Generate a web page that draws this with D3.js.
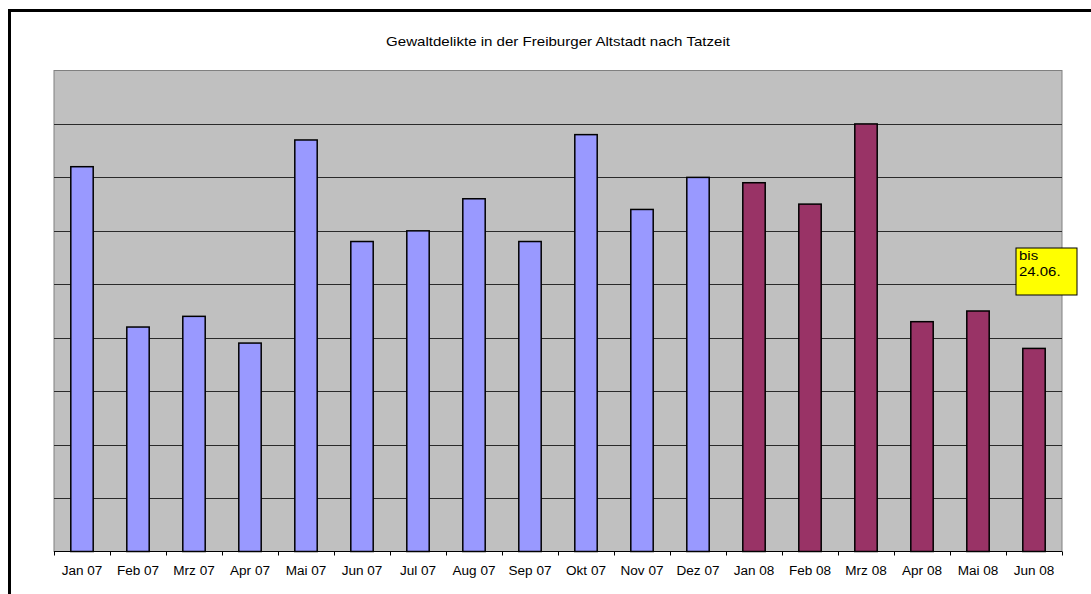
<!DOCTYPE html>
<html>
<head>
<meta charset="utf-8">
<script src="https://cdn.jsdelivr.net/npm/d3@7"></script>
<style>
  body { margin: 0; background: #fff; }
  svg text { font-family: "Liberation Sans", Arial, sans-serif; fill: #000; }
  .axis path { display: none; }
  .axis line { stroke: #000; }
</style>
</head>
<body>
<div id="chart"></div>
<script>
// ---- data
const months = ["Jan 07", "Feb 07", "Mrz 07", "Apr 07", "Mai 07", "Jun 07", "Jul 07", "Aug 07", "Sep 07",
  "Okt 07", "Nov 07", "Dez 07", "Jan 08", "Feb 08", "Mrz 08", "Apr 08", "Mai 08", "Jun 08"];
const counts = [72, 42, 44, 39, 77, 58, 60, 66, 58, 78, 64, 70, 69, 65, 80, 43, 45, 38];
const years = ["2007", "2007", "2007", "2007", "2007", "2007", "2007", "2007", "2007", "2007", "2007", "2007",
  "2008", "2008", "2008", "2008", "2008", "2008"];
const gridValues = [10, 20, 30, 40, 50, 60, 70, 80];
const noteLines = ["bis", "24.06."];

const w = 1091;
const h = 594;

// ---- plot area
const pLeft = 54;
const pRight = 1062;
const pTop = 70.5;
const pBottom = 551.5;

// text in the original is slightly stretched sideways
const stretch = 1.15;

const svg = d3.select("#chart").append("svg")
  .attr("width", w)
  .attr("height", h);

// outer frame (runs off right/bottom)
svg.append("path")
  .attr("d", `M9.5,${h + 5} V10.5 H${w + 5}`)
  .attr("fill", "none")
  .attr("stroke", "#000")
  .attr("stroke-width", 3);

// SCALES
const xScale = d3.scaleBand().domain(months).range([pLeft, pRight]).padding(0);
const xEdge = d3.scaleLinear().domain([0, months.length]).range([pLeft, pRight]);
const yScale = d3.scaleLinear().domain([0, 90]).range([pBottom, pTop]);
const colorScale = d3.scaleOrdinal().domain(["2007", "2008"]).range(["#9999ff", "#993366"]);

// background
svg.append("rect")
  .attr("x", pLeft)
  .attr("y", pTop)
  .attr("width", pRight - pLeft)
  .attr("height", pBottom - pTop)
  .attr("fill", "#c0c0c0")
  .attr("stroke", "#808080")
  .attr("stroke-width", 1);

// gridlines
svg.append("g")
  .selectAll("line")
  .data(gridValues)
  .enter()
  .append("line")
  .attr("x1", pLeft)
  .attr("x2", pRight)
  .attr("y1", d => Math.round(yScale(d)) + 0.5)
  .attr("y2", d => Math.round(yScale(d)) + 0.5)
  .attr("stroke", "#2a2a2a")
  .attr("stroke-width", 1);

// BARS
const barW = xScale.bandwidth() * 0.4;
svg.append("g")
  .selectAll("rect")
  .data(counts)
  .enter()
  .append("rect")
  .attr("x", (d, i) => xScale(months[i]) + (xScale.bandwidth() - barW) / 2)
  .attr("y", d => yScale(d))
  .attr("width", barW)
  .attr("height", d => pBottom - yScale(d))
  .attr("fill", (d, i) => colorScale(years[i]))
  .attr("stroke", "#000")
  .attr("stroke-width", 1.5);

// X AXIS line
svg.append("line")
  .attr("x1", pLeft)
  .attr("x2", pRight)
  .attr("y1", pBottom)
  .attr("y2", pBottom)
  .attr("stroke", "#000");

// boundary ticks
svg.append("g")
  .attr("class", "axis")
  .attr("transform", `translate(0, ${pBottom})`)
  .call(d3.axisBottom(xEdge).ticks(months.length).tickSize(4).tickFormat(""));

// labels
svg.append("g")
  .attr("class", "axis labels")
  .attr("transform", `translate(0, ${pBottom})`)
  .call(d3.axisBottom(xScale).tickSize(0).tickPadding(15))
  .call(g => g.selectAll("text")
    .style("font-size", "12px")
    .attr("transform", `scale(${stretch - 0.02}, 1)`));

// TITLE
svg.append("text")
  .attr("transform", `translate(${(pLeft + pRight) / 2}, 45.5) scale(${stretch + 0.01}, 1)`)
  .attr("text-anchor", "middle")
  .style("font-size", "13px")
  .text("Gewaltdelikte in der Freiburger Altstadt nach Tatzeit");

// note box
const note = svg.append("g").attr("transform", "translate(1016, 248)");
note.append("rect")
  .attr("width", 61)
  .attr("height", 47)
  .attr("fill", "#ffff00")
  .attr("stroke", "#000")
  .attr("stroke-width", 1);
note.selectAll("text")
  .data(noteLines)
  .enter()
  .append("text")
  .attr("transform", (d, i) => `translate(3, ${12 + i * 15.5}) scale(${stretch}, 1)`)
  .style("font-size", "13px")
  .text(d => d);
</script>
</body>
</html>
